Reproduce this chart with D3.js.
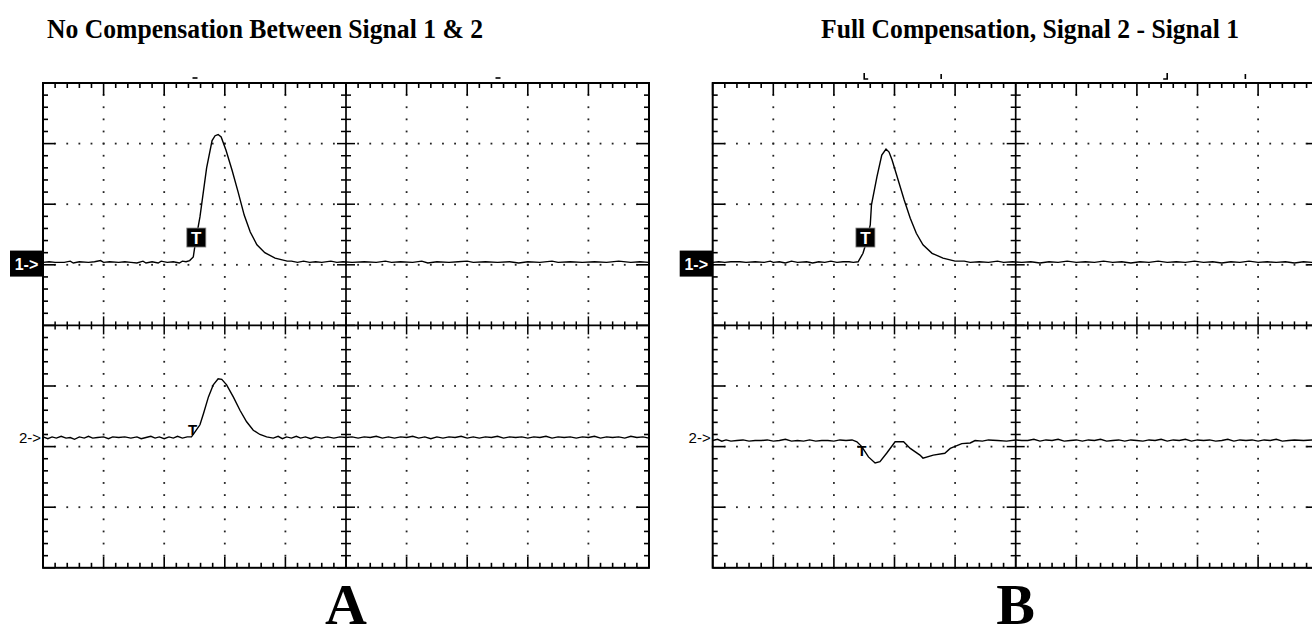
<!DOCTYPE html>
<html><head><meta charset="utf-8">
<script src="https://cdn.jsdelivr.net/npm/d3@7"></script>
<style>html,body{margin:0;padding:0;background:#fff;}svg{display:block;}</style>
</head><body>
<svg id="c" width="1312" height="638"></svg>
<script>
// ---- data (oscilloscope divisions: time 0..10, volts -4..4) ----
const panelTitles = ["No Compensation Between Signal 1 & 2", "Full Compensation, Signal 2 - Signal 1"];
const panelLetters = ["A", "B"];
const channelLabels = ["1->", "2->"];
const channelRef = [1.02, -1.86];          // channel ground marker levels
const triggerTime = [2.53, 2.52];          // trigger marker position (time, div)
const cursorsA = [[2.5, "-"], [7.5, "-"]];
const cursorsB = [[2.5, "L"], [3.77, "I"], [7.5, "J"], [8.79, "I"]];

const traceA1 = [[0,1.04],[0.1,1.05],[0.2,1.04],[0.35,1.04],[0.45,1.06],[0.5,1.03],[0.6,1.05],[0.75,1.04],[0.85,1.05],[0.95,1.07],[1.0,1.04],[1.1,1.05],[1.25,1.04],[1.35,1.05],[1.45,1.04],[1.55,1.03],[1.65,1.06],[1.7,1.03],[1.8,1.05],[1.9,1.03],[1.95,1.06],[2.05,1.04],[2.15,1.05],[2.25,1.03],[2.3,1.06],[2.36,1.05],[2.42,1.07],[2.48,1.13],[2.52,1.40],[2.59,1.79],[2.70,2.60],[2.79,3.05],[2.84,3.13],[2.89,3.15],[2.94,3.11],[3.02,2.89],[3.12,2.56],[3.22,2.20],[3.32,1.82],[3.42,1.54],[3.53,1.33],[3.66,1.20],[3.83,1.11],[4.03,1.06],[4.1,1.06],[4.2,1.04],[4.3,1.06],[4.4,1.04],[4.5,1.05],[4.6,1.04],[4.75,1.06],[4.85,1.04],[4.95,1.05],[5.1,1.04],[5.3,1.05],[5.5,1.04],[5.65,1.06],[5.75,1.04],[5.9,1.05],[6.1,1.04],[6.25,1.06],[6.35,1.03],[6.5,1.05],[6.7,1.04],[6.85,1.05],[7.0,1.06],[7.1,1.04],[7.3,1.05],[7.5,1.04],[7.7,1.05],[7.85,1.03],[8.0,1.05],[8.2,1.04],[8.4,1.06],[8.5,1.04],[8.7,1.05],[8.9,1.04],[9.1,1.05],[9.3,1.04],[9.5,1.06],[9.7,1.04],[9.85,1.05],[10,1.04]];

const traceA2 = [[0,-1.84],[0.08,-1.87],[0.15,-1.84],[0.22,-1.86],[0.3,-1.83],[0.38,-1.86],[0.45,-1.85],[0.52,-1.88],[0.6,-1.84],[0.68,-1.86],[0.75,-1.83],[0.82,-1.86],[0.9,-1.85],[1.0,-1.84],[1.08,-1.87],[1.15,-1.84],[1.25,-1.85],[1.35,-1.84],[1.45,-1.86],[1.55,-1.84],[1.62,-1.87],[1.7,-1.85],[1.78,-1.83],[1.85,-1.86],[1.92,-1.84],[2.0,-1.87],[2.08,-1.84],[2.15,-1.86],[2.22,-1.83],[2.3,-1.86],[2.38,-1.84],[2.45,-1.84],[2.52,-1.74],[2.59,-1.64],[2.65,-1.45],[2.73,-1.18],[2.81,-0.98],[2.89,-0.88],[2.95,-0.89],[3.03,-0.98],[3.14,-1.18],[3.25,-1.40],[3.36,-1.59],[3.47,-1.73],[3.58,-1.80],[3.69,-1.84],[3.8,-1.86],[3.88,-1.83],[3.95,-1.87],[4.02,-1.84],[4.1,-1.86],[4.18,-1.83],[4.25,-1.86],[4.33,-1.84],[4.42,-1.87],[4.5,-1.84],[4.6,-1.86],[4.7,-1.84],[4.8,-1.86],[4.9,-1.84],[5.0,-1.85],[5.1,-1.84],[5.2,-1.86],[5.3,-1.84],[5.4,-1.85],[5.5,-1.83],[5.6,-1.86],[5.7,-1.84],[5.8,-1.86],[5.9,-1.84],[6.0,-1.85],[6.1,-1.83],[6.2,-1.86],[6.3,-1.84],[6.4,-1.87],[6.5,-1.84],[6.6,-1.86],[6.7,-1.84],[6.8,-1.85],[6.9,-1.83],[7.0,-1.86],[7.1,-1.84],[7.2,-1.86],[7.3,-1.84],[7.4,-1.85],[7.5,-1.83],[7.6,-1.86],[7.7,-1.84],[7.8,-1.85],[7.9,-1.84],[8.0,-1.86],[8.1,-1.84],[8.2,-1.85],[8.3,-1.83],[8.4,-1.86],[8.5,-1.84],[8.6,-1.85],[8.7,-1.84],[8.8,-1.86],[8.9,-1.84],[9.0,-1.85],[9.1,-1.83],[9.2,-1.86],[9.3,-1.84],[9.4,-1.85],[9.5,-1.84],[9.6,-1.86],[9.7,-1.83],[9.8,-1.85],[9.9,-1.84],[10,-1.86]];

const traceB1 = [[0,1.04],[0.1,1.05],[0.2,1.04],[0.3,1.05],[0.45,1.05],[0.55,1.04],[0.7,1.05],[0.85,1.04],[0.95,1.06],[1.0,1.04],[1.1,1.05],[1.2,1.03],[1.3,1.06],[1.4,1.04],[1.55,1.05],[1.65,1.03],[1.75,1.05],[1.85,1.04],[1.95,1.06],[2.05,1.04],[2.15,1.05],[2.25,1.05],[2.32,1.04],[2.40,1.05],[2.48,1.19],[2.51,1.29],[2.60,1.66],[2.62,1.99],[2.71,2.45],[2.79,2.81],[2.86,2.91],[2.91,2.86],[2.96,2.73],[3.06,2.40],[3.16,2.07],[3.26,1.77],[3.36,1.52],[3.47,1.33],[3.62,1.19],[3.80,1.11],[4.00,1.06],[4.15,1.06],[4.25,1.04],[4.4,1.05],[4.55,1.04],[4.7,1.06],[4.8,1.04],[4.95,1.05],[5.1,1.04],[5.25,1.05],[5.4,1.03],[5.55,1.05],[5.7,1.04],[5.85,1.06],[6.0,1.04],[6.15,1.05],[6.3,1.04],[6.45,1.06],[6.6,1.04],[6.75,1.05],[6.9,1.03],[7.05,1.05],[7.2,1.04],[7.35,1.06],[7.5,1.04],[7.65,1.05],[7.8,1.04],[7.95,1.06],[8.1,1.04],[8.25,1.05],[8.4,1.03],[8.55,1.05],[8.7,1.04],[8.85,1.06],[9.0,1.04],[9.15,1.05],[9.3,1.04],[9.45,1.05],[9.6,1.03],[9.75,1.05],[9.9,1.04],[10,1.05]];

const traceB2 = [[0,-1.90],[0.08,-1.88],[0.15,-1.91],[0.22,-1.89],[0.3,-1.91],[0.4,-1.90],[0.5,-1.89],[0.6,-1.91],[0.7,-1.90],[0.8,-1.90],[0.9,-1.89],[1.0,-1.91],[1.1,-1.90],[1.2,-1.88],[1.3,-1.91],[1.4,-1.90],[1.5,-1.91],[1.6,-1.89],[1.7,-1.91],[1.8,-1.90],[1.9,-1.90],[2.0,-1.91],[2.1,-1.89],[2.2,-1.90],[2.3,-1.89],[2.38,-1.92],[2.46,-2.00],[2.57,-2.17],[2.68,-2.27],[2.76,-2.25],[2.87,-2.11],[3.01,-1.92],[3.15,-1.92],[3.26,-2.03],[3.42,-2.14],[3.47,-2.19],[3.64,-2.14],[3.83,-2.11],[3.92,-2.03],[4.11,-1.95],[4.25,-1.94],[4.33,-1.90],[4.45,-1.91],[4.55,-1.89],[4.7,-1.90],[4.85,-1.91],[5.0,-1.89],[5.1,-1.90],[5.2,-1.90],[5.3,-1.88],[5.4,-1.91],[5.5,-1.89],[5.6,-1.90],[5.7,-1.88],[5.8,-1.91],[5.9,-1.90],[6.0,-1.89],[6.1,-1.91],[6.2,-1.89],[6.3,-1.90],[6.4,-1.88],[6.5,-1.91],[6.6,-1.90],[6.7,-1.89],[6.8,-1.91],[6.9,-1.89],[7.0,-1.90],[7.1,-1.91],[7.2,-1.89],[7.3,-1.90],[7.4,-1.88],[7.5,-1.91],[7.6,-1.89],[7.7,-1.90],[7.8,-1.88],[7.9,-1.91],[8.0,-1.89],[8.1,-1.90],[8.2,-1.89],[8.3,-1.91],[8.4,-1.90],[8.5,-1.88],[8.6,-1.91],[8.7,-1.89],[8.8,-1.90],[8.9,-1.89],[9.0,-1.91],[9.1,-1.89],[9.2,-1.90],[9.3,-1.88],[9.4,-1.91],[9.5,-1.90],[9.6,-1.89],[9.75,-1.90],[9.9,-1.89],[10,-1.90]];

const panels = [
  {x0: 43, title: panelTitles[0], titleX: 265, titleW: 436, letter: panelLetters[0], traces: [traceA1, traceA2], cursors: cursorsA, trig: triggerTime[0], t2: -1.72},
  {x0: 712.7, title: panelTitles[1], titleX: 1030, titleW: 418, letter: panelLetters[1], traces: [traceB1, traceB2], cursors: cursorsB, trig: triggerTime[1], t2: -2.07}
];

const svg = d3.select("#c");
const DIV = 60.6, Y0 = 83;
const isMaj = d => Math.abs(d - Math.round(d)) < 1e-6;

panels.forEach(p => {
  const x = d3.scaleLinear().domain([0, 10]).range([p.x0, p.x0 + 10 * DIV]);
  const y = d3.scaleLinear().domain([-4, 4]).range([Y0 + 8 * DIV, Y0]);
  const g = svg.append("g");
  const minorX = d3.range(0, 50.5, 1).map(i => i / 5);
  const minorY = d3.range(0, 40.5, 1).map(i => -4 + i / 5);

  // dotted grid
  const dots = [];
  for (let k = 1; k < 10; k++) if (k !== 5) minorY.forEach(v => dots.push([k, v]));
  for (let k = -3; k < 4; k++) if (k !== 0) minorX.forEach(t => dots.push([t, k]));
  g.selectAll("rect.dot").data(dots).join("rect").attr("class", "dot")
    .attr("x", d => x(d[0]) - 0.9).attr("y", d => y(d[1]) - 0.9)
    .attr("width", 1.8).attr("height", 1.8).attr("fill", "#222");

  // center cross
  g.append("line").attr("x1", x(5)).attr("x2", x(5)).attr("y1", y(4)).attr("y2", y(-4)).attr("stroke", "#000").attr("stroke-width", 1.7);
  g.append("line").attr("x1", x(0)).attr("x2", x(10)).attr("y1", y(0)).attr("y2", y(0)).attr("stroke", "#000").attr("stroke-width", 1.7);
  g.selectAll("line.cht").data(minorX).join("line").attr("class", "cht")
    .attr("x1", d => x(d)).attr("x2", d => x(d))
    .attr("y1", d => y(0) - (isMaj(d) ? 9 : 4))
    .attr("y2", d => y(0) + (isMaj(d) ? 9 : 4))
    .attr("stroke", "#000").attr("stroke-width", 1.5);
  g.selectAll("line.cvt").data(minorY).join("line").attr("class", "cvt")
    .attr("y1", d => y(d)).attr("y2", d => y(d))
    .attr("x1", d => x(5) - (isMaj(d) ? 9 : 5))
    .attr("x2", d => x(5) + (isMaj(d) ? 9 : 5))
    .attr("stroke", "#000").attr("stroke-width", 1.5);

  // border ticks
  g.selectAll("line.tt").data(minorX).join("line").attr("class", "tt")
    .attr("x1", d => x(d)).attr("x2", d => x(d)).attr("y1", y(4)).attr("y2", d => y(4) + (isMaj(d) ? 12 : 5))
    .attr("stroke", "#000").attr("stroke-width", 1.6);
  g.selectAll("line.bt").data(minorX).join("line").attr("class", "bt")
    .attr("x1", d => x(d)).attr("x2", d => x(d)).attr("y1", y(-4)).attr("y2", d => y(-4) - (isMaj(d) ? 11 : 5))
    .attr("stroke", "#000").attr("stroke-width", 1.6);
  g.selectAll("line.lt").data(minorY).join("line").attr("class", "lt")
    .attr("y1", d => y(d)).attr("y2", d => y(d)).attr("x1", x(0)).attr("x2", d => x(0) + (isMaj(d) ? 12 : 5))
    .attr("stroke", "#000").attr("stroke-width", 1.6);
  g.selectAll("line.rt").data(minorY).join("line").attr("class", "rt")
    .attr("y1", d => y(d)).attr("y2", d => y(d)).attr("x1", x(10)).attr("x2", d => x(10) - (isMaj(d) ? 12 : 5))
    .attr("stroke", "#000").attr("stroke-width", 1.6);

  // frame
  g.append("rect").attr("x", x(0)).attr("y", y(4)).attr("width", x(10) - x(0)).attr("height", y(-4) - y(4))
    .attr("fill", "none").attr("stroke", "#000").attr("stroke-width", 2);

  // traces
  const line = d3.line().x(d => x(d[0])).y(d => y(d[1]));
  p.traces.forEach(tr => {
    g.append("path").attr("d", line(tr)).attr("fill", "none").attr("stroke", "#000").attr("stroke-width", 1.4);
  });

  // channel markers
  const bw = 33, bh = 26;
  g.append("rect").attr("x", x(0) - bw).attr("y", y(channelRef[0]) - bh / 2).attr("width", bw).attr("height", bh).attr("fill", "#000");
  g.append("text").attr("x", x(0) - bw / 2).attr("y", y(channelRef[0]) + 6).attr("text-anchor", "middle")
    .attr("font-family", "Liberation Sans, Arial, sans-serif").attr("font-size", 16).attr("font-weight", "bold")
    .attr("fill", "#fff").text(channelLabels[0]);
  g.append("text").attr("x", x(0) - 2).attr("y", y(channelRef[1]) + 5).attr("text-anchor", "end")
    .attr("font-family", "Liberation Sans, Arial, sans-serif").attr("font-size", 15)
    .attr("fill", "#000").text(channelLabels[1]);

  // trigger markers
  const tb = 19;
  g.append("rect").attr("x", x(p.trig) - tb / 2).attr("y", y(1.45) - tb / 2).attr("width", tb).attr("height", tb)
    .attr("fill", "#000").attr("stroke", "#888").attr("stroke-width", 0.8);
  g.append("text").attr("x", x(p.trig)).attr("y", y(1.45) + 6.5).attr("text-anchor", "middle")
    .attr("font-family", "Liberation Sans, Arial, sans-serif").attr("font-size", 17).attr("font-weight", "bold")
    .attr("fill", "#fff").text("T");
  g.append("text").attr("x", x(p.trig - 0.06)).attr("y", y(p.t2) + 5).attr("text-anchor", "middle")
    .attr("font-family", "Liberation Sans, Arial, sans-serif").attr("font-size", 15).attr("font-weight", "bold")
    .attr("fill", "#000").text("T");

  // cursor marks above frame
  p.cursors.forEach(c => {
    const cx = x(c[0]), top = y(4) - 10, bot = y(4) - 4;
    let d;
    if (c[1] === "-") d = `M${cx - 2},${bot - 1}H${cx + 3}`;
    else if (c[1] === "L") d = `M${cx},${top}V${bot}H${cx + 4}`;
    else if (c[1] === "J") d = `M${cx},${top}V${bot}H${cx - 4}`;
    else d = `M${cx},${top + 1}V${bot}`;
    g.append("path").attr("d", d).attr("fill", "none").attr("stroke", "#000").attr("stroke-width", 1.6);
  });

  // titles
  svg.append("text").attr("x", p.titleX).attr("y", 38).attr("text-anchor", "middle")
    .attr("font-family", "Liberation Serif, Times New Roman, serif").attr("font-weight", "bold").attr("font-size", 28)
    .attr("textLength", p.titleW).attr("lengthAdjust", "spacingAndGlyphs")
    .attr("fill", "#000").text(p.title);
  svg.append("text").attr("x", x(5)).attr("y", 624).attr("text-anchor", "middle")
    .attr("font-family", "Liberation Serif, Times New Roman, serif").attr("font-weight", "bold").attr("font-size", 58)
    .attr("fill", "#000").text(p.letter);
});
</script>
</body></html>
